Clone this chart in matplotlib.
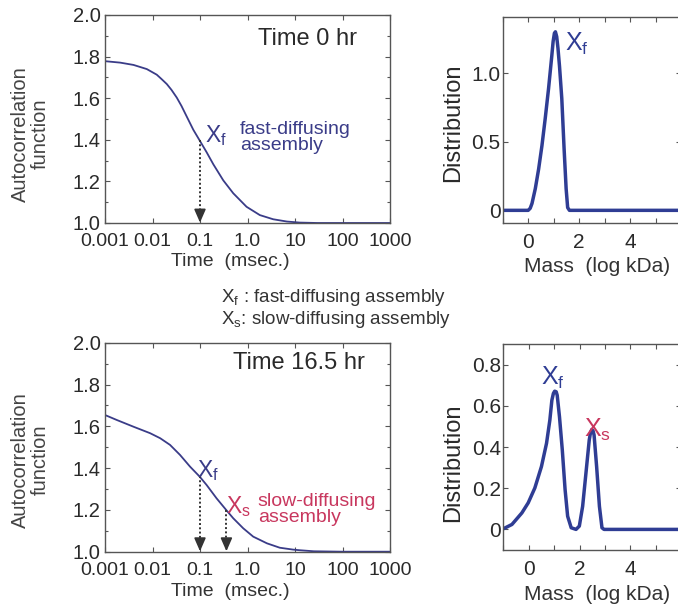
import matplotlib
matplotlib.use("Agg")
import matplotlib.pyplot as plt
from matplotlib.ticker import MultipleLocator, NullLocator

plt.rcParams['font.family'] = ['Liberation Sans', 'DejaVu Sans']
plt.rcParams['mathtext.fontset'] = 'custom'
plt.rcParams['mathtext.rm'] = 'Liberation Sans'
plt.rcParams['mathtext.it'] = 'Liberation Sans:italic'
plt.rcParams['mathtext.bf'] = 'Liberation Sans:bold'

# ---------------- data ----------------
time_ticks = [0.001, 0.01, 0.1, 1.0, 10, 100, 1000]
time_labels = ['0.001', '0.01', '0.1', '1.0', '10', '100', '1000']
acf_ticks = [1.0, 1.2, 1.4, 1.6, 1.8, 2.0]
acf_labels = ['1.0', '1.2', '1.4', '1.6', '1.8', '2.0']

# Time 0 hr autocorrelation
time_0hr = [0.001, 0.00209, 0.00398, 0.00759, 0.0123, 0.0155, 0.0200, 0.0251,
            0.0324, 0.0407, 0.0525, 0.0724, 0.0977, 0.138, 0.191, 0.309,
            0.501, 0.955, 1.82, 3.47, 6.76, 12.6, 30, 100, 1000]
acf_0hr = [1.778, 1.771, 1.760, 1.740, 1.713, 1.692, 1.668, 1.640,
           1.603, 1.563, 1.512, 1.448, 1.398, 1.340, 1.282, 1.205,
           1.143, 1.078, 1.038, 1.018, 1.007, 1.002, 1.0, 1.0, 1.0]

# Time 16.5 hr autocorrelation
time_16hr = [0.001, 0.00178, 0.00398, 0.00891, 0.0145, 0.0234, 0.0380, 0.0617,
             0.0977, 0.138, 0.224, 0.355, 0.501, 0.813, 1.32, 2.57, 4.79,
             9.12, 12.6, 25, 100, 1000]
acf_16hr = [1.654, 1.630, 1.598, 1.567, 1.543, 1.511, 1.463, 1.407,
            1.360, 1.319, 1.255, 1.200, 1.160, 1.112, 1.072, 1.040, 1.019,
            1.010, 1.007, 1.002, 1.0, 1.0]

# arrows (time, start value)
arrow_t_0hr = [0.1]
arrow_y_0hr = [1.40]
arrow_t_16hr = [0.1, 0.36]
arrow_y_16hr = [1.36, 1.20]

# Mass distributions
mass_0hr = [-1, 0.0, 0.08, 0.15, 0.28, 0.41, 0.54, 0.67, 0.80, 0.93, 0.98,
            1.03, 1.07, 1.12, 1.17, 1.23, 1.32, 1.41, 1.49, 1.55, 1.62, 6]
dist_0hr = [0, 0, 0.015, 0.05, 0.158, 0.30, 0.47, 0.67, 0.886, 1.13, 1.23,
            1.29, 1.30, 1.265, 1.18, 1.05, 0.814, 0.45, 0.158, 0.02, 0, 0]

mass_16hr = [-1, -0.66, -0.27, -0.02, 0.24, 0.50, 0.70, 0.83, 0.91, 0.97,
             1.02, 1.08, 1.12, 1.21, 1.32, 1.43, 1.53, 1.67, 1.86, 1.99,
             2.12, 2.25, 2.38, 2.43, 2.48, 2.53, 2.57, 2.67, 2.78, 2.88,
             2.96, 6]
dist_16hr = [0.003, 0.024, 0.080, 0.129, 0.201, 0.305, 0.418, 0.530, 0.627,
             0.660, 0.671, 0.668, 0.651, 0.546, 0.386, 0.193, 0.064, 0.008,
             0.0, 0.016, 0.112, 0.273, 0.434, 0.470, 0.485, 0.478, 0.458,
             0.305, 0.112, 0.008, 0.0, 0.0]

mass_ticks = [0, 2, 4]
mass_labels = ['0', '2', '4']
dist_ticks_0hr = [0, 0.5, 1.0]
dist_labels_0hr = ['0', '0.5', '1.0']
dist_ticks_16hr = [0, 0.2, 0.4, 0.6, 0.8]
dist_labels_16hr = ['0', '0.2', '0.4', '0.6', '0.8']

# ---------------- style ----------------
NAVY = '#3a3c88'
BLUE = '#2f3d94'
RED = '#c8375e'
TXT = '#2a2a2a'
GREY = '#555555'

W, H = 678, 611
fig = plt.figure(figsize=(W / 100, H / 100), dpi=100)
fig.patch.set_facecolor('white')


def rect(l, t, r, b):
    return [l / W, 1 - b / H, (r - l) / W, (b - t) / H]


def fpos(x, y):
    return (x / W, 1 - y / H)


ax1 = fig.add_axes(rect(105, 15, 390, 223))
ax3 = fig.add_axes(rect(105, 342.7, 390, 551.7))
ax2 = fig.add_axes(rect(502.7, 16.7, 681, 222.7))
ax4 = fig.add_axes(rect(503.3, 344, 681.3, 550))


def style_common(ax):
    for s in ax.spines.values():
        s.set_color(GREY)
        s.set_linewidth(1.0)
    ax.tick_params(which='both', direction='in', top=True, right=True,
                   color=GREY, width=0.8, labelcolor=TXT)
    ax.tick_params(which='major', length=3.5)
    ax.tick_params(which='minor', length=2)


def style_acf(ax):
    ax.set_xscale('log')
    ax.set_xlim(1e-3, 1e3)
    ax.set_ylim(1.0, 2.0)
    ax.set_xticks(time_ticks)
    ax.set_xticklabels(time_labels)
    ax.xaxis.set_minor_locator(NullLocator())
    ax.set_yticks(acf_ticks)
    ax.set_yticklabels(acf_labels)
    ax.yaxis.set_minor_locator(MultipleLocator(0.1))
    style_common(ax)
    ax.tick_params(axis='x', labelsize=14, pad=7.5)
    ax.tick_params(axis='y', labelsize=14.5, pad=3)


def style_dist(ax, yt, yl, ylim):
    ax.set_xlim(-1, 6)
    ax.set_ylim(*ylim)
    ax.set_xticks(mass_ticks)
    ax.set_xticklabels(mass_labels)
    ax.xaxis.set_minor_locator(MultipleLocator(1))
    ax.set_yticks(yt)
    ax.set_yticklabels(yl)
    ax.yaxis.set_minor_locator(NullLocator())
    style_common(ax)
    ax.tick_params(which='minor', length=3.5)
    ax.tick_params(axis='x', labelsize=15, pad=7.5)
    ax.tick_params(axis='y', labelsize=15, pad=1.5)


def draw_arrows(ax, ts, ys):
    for t, y0 in zip(ts, ys):
        ax.plot([t, t], [y0, 1.04], linestyle=(0, (1, 1.2)), color='#333333',
                lw=1.4)
        ax.annotate('', xy=(t, 1.002), xytext=(t, 1.06),
                    arrowprops=dict(arrowstyle='-|>,head_length=0.8,head_width=0.35',
                                    color='#333333', lw=1.2,
                                    shrinkA=0, shrinkB=0))


# --- top left ---
style_acf(ax1)
ax1.plot(time_0hr, acf_0hr, color=NAVY, lw=1.3)
draw_arrows(ax1, arrow_t_0hr, arrow_y_0hr)
ax1.text(0.537, 0.885, 'Time 0 hr', transform=ax1.transAxes, fontsize=17,
         color=TXT, ha='left', va='center')
ax1.text(0.125, 1.389, r'X$_\mathregular{f}$', fontsize=16.5, color=NAVY,
         ha='left', va='baseline')
ax1.text(0.69, 1.413, 'fast-diffusing\nassembly', fontsize=14, color=NAVY,
         ha='left', va='center', linespacing=0.92)

# --- bottom left ---
style_acf(ax3)
ax3.plot(time_16hr, acf_16hr, color=NAVY, lw=1.3)
draw_arrows(ax3, arrow_t_16hr, arrow_y_16hr)
ax3.text(0.449, 0.905, 'Time 16.5 hr', transform=ax3.transAxes, fontsize=17,
         color=TXT, ha='left', va='center')
ax3.text(0.087, 1.359, r'X$_\mathregular{f}$', fontsize=16.5, color=NAVY,
         ha='left', va='baseline')
ax3.text(0.355, 1.184, r'X$_\mathregular{s}$', fontsize=16.5, color=RED,
         ha='left', va='baseline')
ax3.text(1.65, 1.204, 'slow-diffusing\nassembly', fontsize=14, color=RED,
         ha='left', va='center', linespacing=0.92)

# --- top right ---
style_dist(ax2, dist_ticks_0hr, dist_labels_0hr, (-0.09, 1.41))
ax2.plot(mass_0hr, dist_0hr, color=BLUE, lw=2.5, solid_capstyle='round',
         solid_joinstyle='round')
ax2.text(1.45, 1.165, r'X$_\mathregular{f}$', fontsize=18, color=BLUE,
         ha='left', va='baseline')

# --- bottom right ---
style_dist(ax4, dist_ticks_16hr, dist_labels_16hr, (-0.1, 0.9))
ax4.plot(mass_16hr, dist_16hr, color=BLUE, lw=2.5, solid_capstyle='round',
         solid_joinstyle='round')
ax4.text(0.5, 0.70, r'X$_\mathregular{f}$', fontsize=18, color=BLUE,
         ha='left', va='baseline')
ax4.text(2.18, 0.45, r'X$_\mathregular{s}$', fontsize=18, color=RED,
         ha='left', va='baseline')

# --- axis labels ---
for yc in (134, 460):
    fig.text(*fpos(30, yc), 'Autocorrelation\nfunction', rotation=90,
             fontsize=14.5, color='#444444', ha='center', va='center',
             linespacing=1.05)
for yc in (261, 591):
    fig.text(*fpos(230, yc), 'Time  (msec.)', fontsize=14, color='#333333',
             ha='center', va='center')
for yc in (123, 463):
    fig.text(*fpos(453, yc), 'Distribution', rotation=90, fontsize=17,
             color=TXT, ha='center', va='center')
for yc in (266, 594):
    fig.text(*fpos(597, yc), 'Mass  (log kDa)', fontsize=15, color='#333333',
             ha='center', va='center')

# --- legend text in the middle ---
fig.text(*fpos(221, 297), r'X$_\mathregular{f}$ : fast-diffusing assembly',
         fontsize=13.5, color='#333333', ha='left', va='center')
fig.text(*fpos(221, 320), r'X$_\mathregular{s}$: slow-diffusing assembly',
         fontsize=13.5, color='#333333', ha='left', va='center')

fig.savefig('out.png', dpi=100)
